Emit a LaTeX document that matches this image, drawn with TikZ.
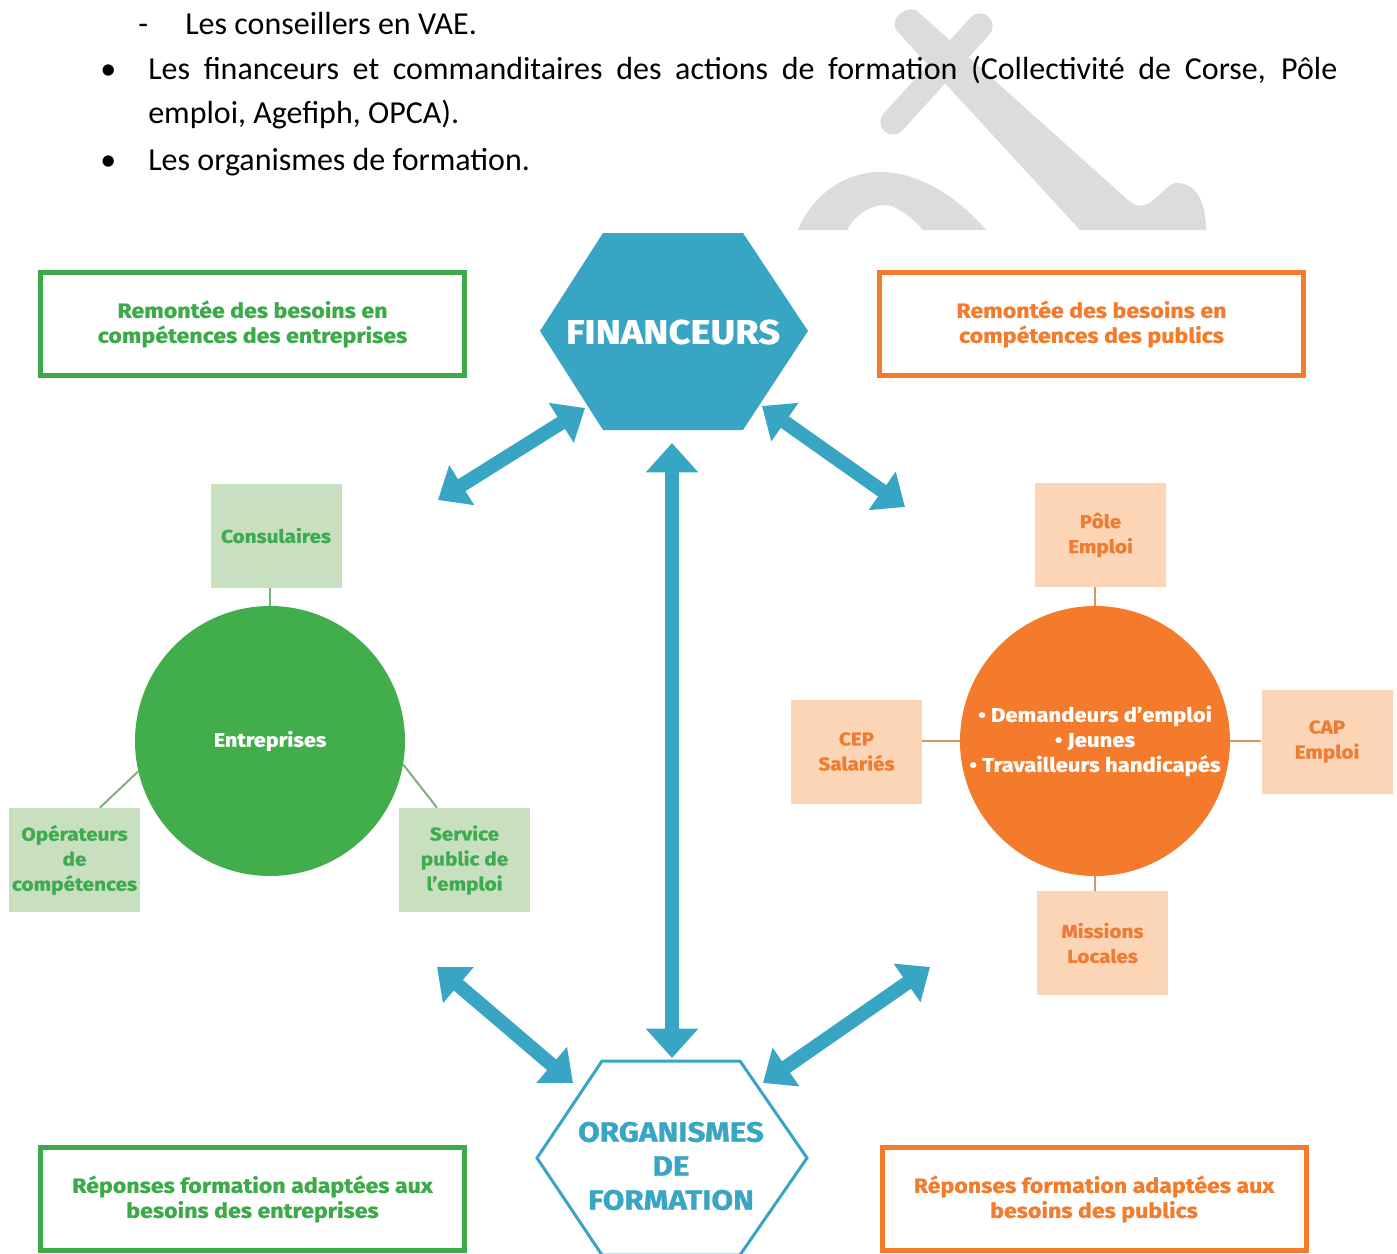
\documentclass[tikz,border=0pt]{standalone}
\usepackage{fontspec}
\setmainfont{Carlito}
\newfontfamily\dfont{Fira Sans}[FakeStretch=1.12, BoldFeatures={FakeBold=1}]
\usetikzlibrary{arrows.meta}
\definecolor{myteal}{HTML}{37A5C3}
\definecolor{mygreen}{HTML}{3DAA49}
\definecolor{cgreen}{HTML}{41AE4B}
\definecolor{lgreen}{HTML}{C8E0C0}
\definecolor{tgreen}{HTML}{3FAA4F}
\definecolor{myorange}{HTML}{F37B2B}
\definecolor{lorange}{HTML}{FCD5B7}
\definecolor{torange}{HTML}{EE7D33}
\definecolor{wmark}{HTML}{DCDCDC}
\definecolor{lnkgreen}{HTML}{7DB07D}
\definecolor{lnkorange}{HTML}{D8935E}
\tikzset{
  body/.style={anchor=base west, inner sep=0pt, font=\fontsize{24}{29}\selectfont},
  bigbox/.style={line width=3.75pt, minimum width=318pt, minimum height=77.25pt, inner sep=0pt, align=center, font=\dfont\bfseries\fontsize{15.5}{18.75}\selectfont},
  gbox/.style={bigbox, draw=mygreen, text=mygreen},
  obox/.style={bigbox, draw=myorange, text=myorange},
  smallbox/.style={minimum width=98.25pt, minimum height=78pt, inner sep=0pt, align=center, font=\dfont\bfseries\fontsize{13.9}{18.75}\selectfont},
  sgbox/.style={smallbox, fill=lgreen, text=tgreen},
  sobox/.style={smallbox, fill=lorange, text=torange},
  biarrow/.style={draw=myteal, line width=10.5pt, {Triangle[length=21pt,width=34pt]}-{Triangle[length=21pt,width=34pt]}},
  vbiarrow/.style={draw=myteal, line width=10.5pt, {Triangle[length=22pt,width=38pt]}-{Triangle[length=22pt,width=38pt]}},
  glink/.style={draw=lnkgreen, line width=1.5pt},
  olink/.style={draw=lnkorange, line width=1.5pt}
}
\begin{document}
\begin{tikzpicture}[x=0.75pt,y=-0.75pt]
\useasboundingbox (0,0) rectangle (1397,1254);
% watermark
\begin{scope}
\clip (0,0) rectangle (1397,230);
\fill[wmark] (896,30) .. controls (890,20) and (903,6) .. (916,10) -- (1128,200) .. controls (1148,218) and (1160,188) .. (1175,183) .. controls (1195,182) and (1206,200) .. (1206,230) -- (1080,230) -- cycle;
\draw[wmark, line width=19pt, line cap=round] (980,26) -- (893,122);
\fill[wmark] (798,230) .. controls (812,195) and (845,172) .. (880,172) .. controls (925,172) and (965,205) .. (986,230) -- (923,230) .. controls (910,215) and (895,205) .. (885,205) .. controls (870,205) and (855,215) .. (847,230) -- cycle;
\end{scope}
% body text
\node[body] (dash) at (138,34) {-};
\node[body] (t1) at (185,34) {Les conseillers en VAE.};
\node[body] (b1) at (100,79) {•};
\node[body] (t2) at (148,79) {\makebox[891.75pt][s]{Les financeurs et commanditaires des actions de formation (Collectivité de Corse, Pôle}};
\node[body] (t3) at (148,123) {emploi, Agefiph, OPCA).};
\node[body] (b2) at (100,170) {•};
\node[body] (t4) at (148,170) {Les organismes de formation.};
% big boxes
\node[gbox] (rg) at (252.5,324) {Remontée des besoins en\\compétences des entreprises};
\node[obox] (ro) at (1091.5,324) {Remontée des besoins en\\compétences des publics};
\node[gbox] (pg) at (252.5,1199) {Réponses formation adaptées aux\\besoins des entreprises};
\node[obox] (po) at (1094,1199) {Réponses formation adaptées aux\\besoins des publics};
% hexagons
\fill[myteal] (540,331) -- (603,233) -- (743,233) -- (808,331) -- (743,430) -- (603,430) -- cycle;
\node[text=white, font=\dfont\bfseries\fontsize{25.5}{28}\selectfont] (fin) at (673,332) {FINANCEURS};
\draw[myteal, fill=white, line width=2.25pt] (537,1158) -- (602,1061) -- (740,1061) -- (807,1158) -- (740,1255) -- (602,1255) -- cycle;
\node[text=myteal, align=center, font=\dfont\bfseries\fontsize{21}{25.5}\selectfont] (org) at (671,1166) {ORGANISMES\\DE\\FORMATION};
% arrows
\coordinate (a1) at (438,500); \coordinate (a2) at (585,408);
\coordinate (a3) at (762,406); \coordinate (a4) at (905,507);
\coordinate (a5) at (437,967); \coordinate (a6) at (573,1083);
\coordinate (a7) at (930,967); \coordinate (a8) at (763,1083);
\coordinate (v1) at (672,443); \coordinate (v2) at (672,1058);
\draw[biarrow] (a1) -- (a2);
\draw[biarrow] (a3) -- (a4);
\draw[biarrow] (a5) -- (a6);
\draw[biarrow] (a7) -- (a8);
\draw[vbiarrow] (v1) -- (v2);
% green cluster
\node[circle, fill=cgreen, minimum size=202.5pt, inner sep=0pt, text=white, font=\dfont\bfseries\fontsize{14.5}{16}\selectfont] (ent) at (270,741) {Entreprises};
\node[sgbox] (cons) at (276,535.5) {Consulaires};
\node[sgbox] (op) at (74.5,860) {Opérateurs\\de\\compétences};
\node[sgbox] (spe) at (464.5,860) {Service\\public de\\l’emploi};
\draw[glink] (ent.north) -- (ent.north |- cons.south);
\draw[glink] (ent.193) -- ([xshift=19pt]op.north);
\draw[glink] (ent.350) -- ([xshift=-20.6pt]spe.north);
% orange cluster
\node[circle, fill=myorange, minimum size=202.5pt, inner sep=0pt, text=white, align=center, font=\dfont\bfseries\fontsize{14.8}{18.75}\selectfont] (pub) at (1095,741) {• Demandeurs d’emploi\\• Jeunes\\• Travailleurs handicapés};
\node[sobox] (pole) at (1100.5,535) {Pôle\\Emploi};
\node[sobox] (cep) at (856.5,751.5) {CEP\\Salariés};
\node[sobox] (cap) at (1327,741.5) {CAP\\Emploi};
\node[sobox] (mis) at (1102.5,943) {Missions\\Locales};
\draw[olink] (pub.north) -- (pub.north |- pole.south);
\draw[olink] (pub.west) -- (pub.west -| cep.east);
\draw[olink] (pub.east) -- (pub.east -| cap.west);
\draw[olink] (pub.south) -- (pub.south |- mis.north);
\end{tikzpicture}
\end{document}
